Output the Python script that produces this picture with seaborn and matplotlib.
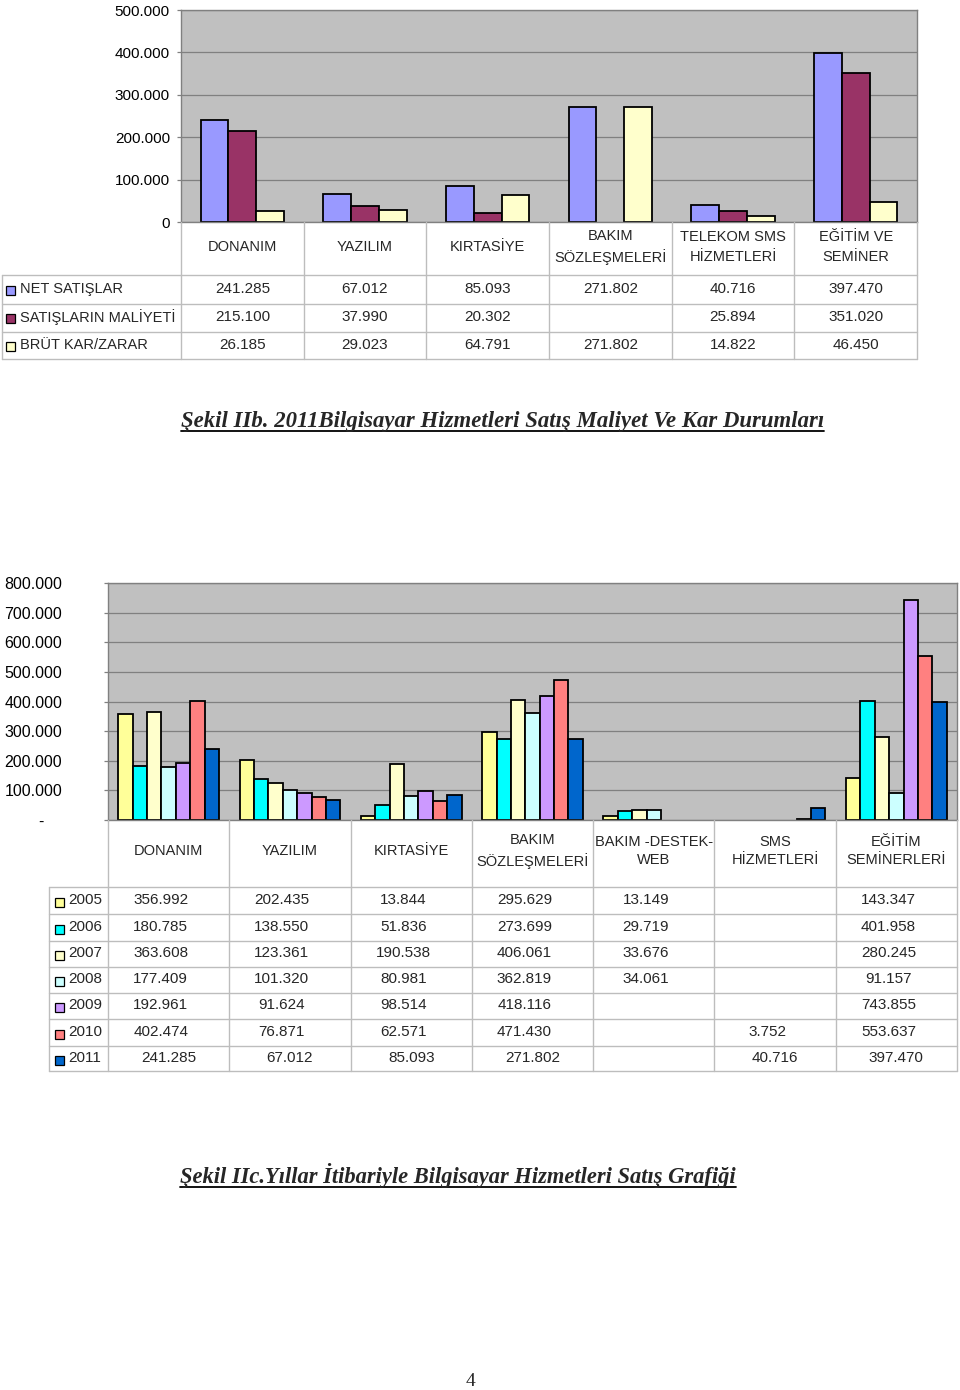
import matplotlib
matplotlib.use("Agg")
import matplotlib.pyplot as plt
import matplotlib.transforms as mtransforms
from matplotlib.lines import Line2D
from matplotlib.patches import Rectangle
import pandas as pd
import seaborn as sns

W, H = 960, 1390

# --- chart 1: 2011 satis / maliyet / kar ---
cats1 = ["DONANIM", "YAZILIM", "KIRTASİYE", "BAKIM\nSÖZLEŞMELERİ",
         "TELEKOM SMS\nHİZMETLERİ", "EĞİTİM VE\nSEMİNER"]
series1 = ["NET SATIŞLAR", "SATIŞLARIN MALİYETİ", "BRÜT KAR/ZARAR"]
net_satislar = [241285, 67012, 85093, 271802, 40716, 397470]
satis_maliyeti = [215100, 37990, 20302, None, 25894, 351020]
brut_kar = [26185, 29023, 64791, 271802, 14822, 46450]
colors1 = ["#9999FF", "#993366", "#FFFFCC"]
yticks1 = [0, 100000, 200000, 300000, 400000, 500000]

# --- chart 2: yillara gore satislar ---
cats2 = ["DONANIM", "YAZILIM", "KIRTASİYE", "BAKIM\nSÖZLEŞMELERİ",
         "BAKIM -DESTEK-\nWEB", "SMS\nHİZMETLERİ", "EĞİTİM\nSEMİNERLERİ"]
years = ["2005", "2006", "2007", "2008", "2009", "2010", "2011"]
y2005 = [356992, 202435, 13844, 295629, 13149, None, 143347]
y2006 = [180785, 138550, 51836, 273699, 29719, None, 401958]
y2007 = [363608, 123361, 190538, 406061, 33676, None, 280245]
y2008 = [177409, 101320, 80981, 362819, 34061, None, 91157]
y2009 = [192961, 91624, 98514, 418116, None, None, 743855]
y2010 = [402474, 76871, 62571, 471430, None, 3752, 553637]
y2011 = [241285, 67012, 85093, 271802, None, 40716, 397470]
colors2 = ["#FFFF99", "#00FFFF", "#FFFFCC", "#CCFFFF", "#CC99FF", "#FF8080", "#0066CC"]
yticks2 = [0, 100000, 200000, 300000, 400000, 500000, 600000, 700000, 800000]

sns.set_theme(style="white")
plt.rcParams["font.family"] = ["Liberation Sans", "DejaVu Sans"]

GRID = "#808080"
TABLE = "#BDBDBD"


def fmt(v):
    return f"{v:,.0f}".replace(",", ".")


def px(x):
    return x / W


def py(y):
    return 1 - y / H


def long_frame(cats, names, columns):
    rows = []
    for name, vals in zip(names, columns):
        for c, v in zip(cats, vals):
            if v is not None:
                rows.append((c, name, v))
    return pd.DataFrame(rows, columns=["kategori", "seri", "deger"])


def hline(x0, x1, y, color=TABLE, lw=1.0):
    fig.add_artist(Line2D([px(x0), px(x1)], [py(y), py(y)], transform=fig.transFigure,
                          color=color, lw=lw))


def vline(x, y0, y1, color=TABLE, lw=1.0):
    fig.add_artist(Line2D([px(x), px(x)], [py(y0), py(y1)], transform=fig.transFigure,
                          color=color, lw=lw))


def key(x, y, color):
    fig.add_artist(Rectangle((px(x), py(y + 9)), 9 / W, 9 / H, transform=fig.transFigure,
                             facecolor=color, edgecolor="black", lw=0.9))


def style_axes(ax, ymax, yticks, labels, n, pad):
    ax.set_facecolor("#C0C0C0")
    ax.set_xlim(-0.5, n - 0.5)
    ax.set_ylim(0, ymax)
    ax.set_xticks([])
    ax.set_xlabel("")
    ax.set_ylabel("")
    ax.set_yticks(yticks, labels)
    ax.yaxis.grid(True, color=GRID, lw=0.9)
    ax.set_axisbelow(True)
    for s in ax.spines.values():
        s.set_color(GRID)
        s.set_linewidth(1.0)
    ax.tick_params(axis="y", left=True, length=3, width=0.9, color=GRID,
                   labelsize=11, labelcolor="black", pad=pad)


fig = plt.figure(figsize=(W / 100, H / 100), dpi=100)
fig.patch.set_facecolor("white")

# ================= chart 1 =================
L1, T1, R1, B1 = 181, 10, 917, 222
ax1 = fig.add_axes([px(L1), py(B1), (R1 - L1) / W, (B1 - T1) / H])
df1 = long_frame(cats1, series1, [net_satislar, satis_maliyeti, brut_kar])
sns.barplot(data=df1, x="kategori", y="deger", hue="seri", order=cats1, hue_order=series1,
            palette=colors1, saturation=1, width=0.68, edgecolor="black", linewidth=1.3,
            errorbar=None, legend=False, ax=ax1)
style_axes(ax1, 500000, yticks1, [fmt(v) for v in yticks1], len(cats1), 5)

tr1 = mtransforms.blended_transform_factory(ax1.transData, fig.transFigure)
for i, c in enumerate(cats1):
    ax1.text(i, py(247), c, transform=tr1, ha="center", va="center", fontsize=10.5,
             linespacing=1.5, clip_on=False)

rows1_y = [289, 317, 345]
for name, vals, col, ry in zip(series1, [net_satislar, satis_maliyeti, brut_kar], colors1, rows1_y):
    key(6, ry - 3, col)
    fig.text(px(20), py(ry), name, ha="left", va="center", fontsize=10.5)
    for i, v in enumerate(vals):
        if v is not None:
            ax1.text(i, py(ry), fmt(v), transform=tr1, ha="center", va="center",
                     fontsize=11, clip_on=False)

colw1 = (R1 - L1) / len(cats1)
for i in range(len(cats1) + 1):
    vline(L1 + i * colw1, B1, 359)
vline(2, 275, 359)
for y in [275, 304, 332, 359]:
    hline(2, R1, y)

# ================= chart 2 =================
L2, T2, R2, B2 = 108, 583, 957, 820
ax2 = fig.add_axes([px(L2), py(B2), (R2 - L2) / W, (B2 - T2) / H])
cols2 = [y2005, y2006, y2007, y2008, y2009, y2010, y2011]
df2 = long_frame(cats2, years, cols2)
sns.barplot(data=df2, x="kategori", y="deger", hue="seri", order=cats2, hue_order=years,
            palette=colors2, saturation=1, width=0.83, edgecolor="black", linewidth=1.3,
            errorbar=None, legend=False, ax=ax2)
labels2 = [fmt(v) if v else "-    " for v in yticks2]
style_axes(ax2, 800000, yticks2, labels2, len(cats2), 30)
for lab in ax2.get_yticklabels():
    lab.set_fontsize(11.5)

tr2 = mtransforms.blended_transform_factory(ax2.transData, fig.transFigure)
for i, c in enumerate(cats2):
    ax2.text(i, py(851), c, transform=tr2, ha="center", va="center", fontsize=10.5,
             linespacing=1.4, clip_on=False)

rows2_y = [900, 927, 953, 979, 1005, 1032, 1058]
shift2 = [-0.066, -0.066, -0.066, -0.066, -0.066, -0.066, 0.0]
for yr, vals, col, ry, sh in zip(years, cols2, colors2, rows2_y, shift2):
    key(55, ry - 2, col)
    fig.text(px(68), py(ry), yr, ha="left", va="center", fontsize=11)
    for i, v in enumerate(vals):
        if v is not None:
            ax2.text(i + sh, py(ry), fmt(v), transform=tr2, ha="center", va="center",
                     fontsize=11, clip_on=False)

colw2 = (R2 - L2) / len(cats2)
for i in range(len(cats2) + 1):
    vline(L2 + i * colw2, B2, 1071)
vline(49, 887, 1071)
for y in [887, 914, 940.5, 966.5, 993, 1019, 1045.5, 1071]:
    hline(49, R2, y)

# ================= captions =================
renderer = fig.canvas.get_renderer()


def caption(x, base, s, target_w):
    t = fig.text(px(x), py(base), s, family=["Liberation Serif", "DejaVu Serif"],
                 weight="bold", style="italic", fontsize=15, ha="left", va="baseline")
    bb = t.get_window_extent(renderer)
    t.set_fontsize(15 * target_w / bb.width)
    bb = t.get_window_extent(renderer)
    fig.add_artist(Line2D([bb.x0 / W, bb.x1 / W], [py(base + 4)] * 2,
                          transform=fig.transFigure, color="black", lw=1.3))


caption(181, 427, "Şekil IIb. 2011Bilgisayar Hizmetleri Satış Maliyet Ve Kar Durumları", 642)
caption(180, 1183, "Şekil IIc.Yıllar İtibariyle Bilgisayar Hizmetleri Satış Grafiği", 558)

fig.text(px(471), py(1381), "4", family=["Liberation Serif", "DejaVu Serif"], fontsize=14,
         ha="center", va="center")

fig.savefig("out.png", dpi=100)
